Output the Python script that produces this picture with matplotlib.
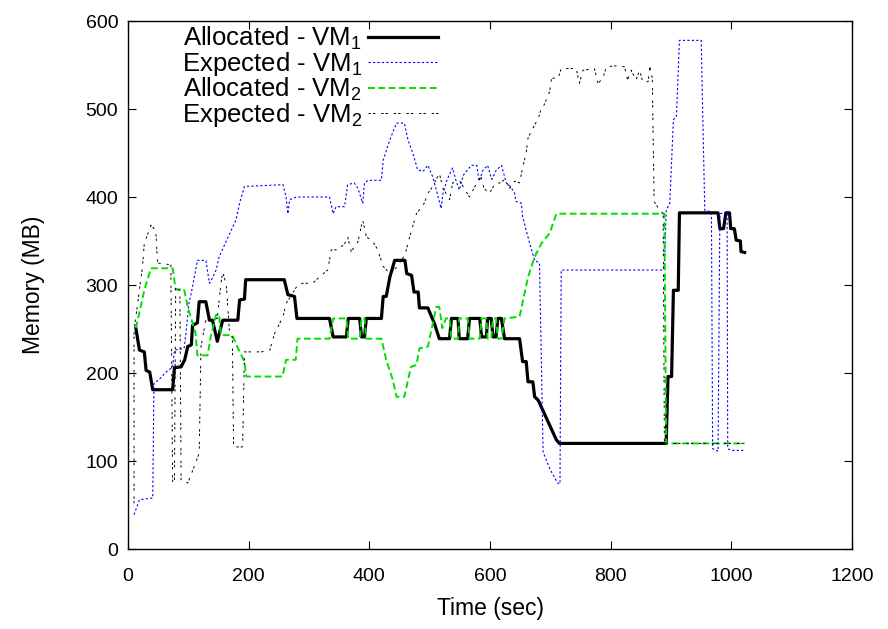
import numpy as np
import matplotlib
matplotlib.use("Agg")
import matplotlib.pyplot as plt

plt.rcParams['font.family'] = ['Liberation Sans', 'DejaVu Sans']
plt.rcParams['mathtext.fontset'] = 'custom'
plt.rcParams['mathtext.rm'] = 'Liberation Sans'
plt.rcParams['mathtext.it'] = 'Liberation Sans:italic'

# --- Allocated VM1 (black, thick) ---
alloc1_t = [13, 19, 27, 30, 36, 41, 74, 77, 88, 94, 99, 105, 107, 115, 118, 129, 135, 140, 148, 157,
            182, 185, 193, 195, 204, 259, 265, 276, 280, 334, 340, 362, 365, 384, 387, 392, 395, 420,
            423, 428, 434, 442, 459, 462, 470, 474, 481, 483, 497, 508, 516, 533, 536, 547, 549, 563,
            566, 583, 586, 594, 596, 602, 605, 610, 613, 619, 624, 649, 654, 660, 663, 671, 674, 680,
            710, 715, 892, 895, 901, 904, 912, 914, 978, 981, 987, 991, 997, 999, 1005, 1008, 1015,
            1016, 1022]
alloc1_y = [251, 226, 224, 203, 201, 181, 181, 206, 207, 215, 230, 232, 254, 257, 281, 281, 260, 260, 236, 260,
            260, 283, 284, 306, 306, 306, 289, 287, 262, 262, 241, 241, 262, 262, 241, 241, 262, 262,
            287, 287, 309, 328, 328, 313, 311, 292, 292, 274, 274, 256, 239, 239, 262, 262, 239, 239,
            262, 262, 241, 241, 262, 262, 241, 241, 262, 262, 239, 239, 213, 213, 190, 190, 173, 169,
            124, 120, 120, 196, 196, 294, 294, 382, 382, 364, 364, 382, 382, 364, 364, 351, 350,
            338, 337]

# --- Expected VM1 (blue, dotted) ---
exp1_t = [10, 19, 41, 43, 52, 63, 74, 77, 93, 96, 101, 107, 115, 129, 135, 140, 146, 151, 165, 179,
          185, 193, 257, 262, 265, 268, 279, 334, 340, 345, 359, 364, 375, 381, 389, 392, 398, 420,
          423, 434, 445, 458, 464, 472, 480, 489, 497, 505, 511, 519, 522, 529, 538, 543, 549, 556,
          569, 578, 582, 588, 596, 603, 610, 619, 627, 634, 641, 643, 652, 654, 660, 666, 674, 682,
          688, 700, 712, 716, 718, 889, 892, 898, 904, 909, 914, 950, 956, 967, 969, 978, 981, 993,
          994, 1000, 1019, 1022]
exp1_y = [39, 56, 58, 188, 193, 201, 207, 226, 228, 245, 279, 298, 328, 328, 302, 308, 317, 332, 353, 374,
          393, 412, 414, 400, 381, 397, 400, 400, 381, 389, 389, 414, 416, 410, 393, 416, 419, 419,
          442, 465, 484, 484, 465, 450, 431, 429, 436, 423, 408, 387, 404, 420, 433, 420, 408, 425,
          436, 436, 418, 430, 436, 420, 430, 436, 416, 412, 404, 395, 393, 378, 362, 347, 328, 325,
          110, 90, 75, 74, 317, 317, 385, 393, 488, 491, 578, 578, 385, 383, 114, 111, 381, 383,
          114, 112, 112, 114]

# --- Allocated VM2 (green, dashed) ---
alloc2_t = [13, 21, 27, 38, 74, 79, 93, 99, 112, 115, 132, 137, 146, 151, 154, 173, 181, 193, 196, 256,
            262, 278, 281, 334, 340, 362, 365, 384, 387, 392, 395, 420, 428, 439, 445, 458, 469, 478,
            483, 497, 511, 516, 521, 527, 533, 536, 547, 549, 563, 566, 583, 586, 594, 596, 602, 605,
            610, 613, 619, 624, 649, 663, 674, 685, 699, 710, 889, 892, 1022]
alloc2_y = [251, 275, 294, 319, 319, 295, 295, 275, 245, 220, 220, 241, 266, 266, 243, 243, 230, 213, 196, 196,
            215, 215, 239, 239, 262, 262, 239, 239, 262, 262, 239, 239, 215, 192, 173, 173, 207, 209,
            228, 230, 275, 275, 251, 262, 262, 239, 239, 262, 262, 239, 239, 262, 262, 239, 239, 262,
            262, 239, 239, 262, 264, 309, 332, 347, 359, 381, 381, 120, 120]

# --- Expected VM2 (black, sparse dashes) ---
exp2_t = [10, 10, 16, 24, 27, 38, 46, 49, 71, 74, 77, 79, 86, 88, 99, 110, 118, 121, 129, 148,
          154, 157, 163, 168, 173, 175, 190, 193, 221, 235, 243, 257, 262, 276, 281, 290, 306, 317,
          331, 337, 348, 359, 364, 370, 381, 389, 395, 406, 414, 423, 434, 445, 459, 467, 478, 491,
          497, 505, 516, 522, 533, 538, 550, 566, 575, 585, 590, 599, 608, 616, 625, 633, 641, 649,
          654, 660, 663, 668, 674, 680, 685, 690, 699, 702, 713, 718, 743, 748, 754, 773, 779, 787,
          793, 807, 823, 828, 834, 842, 848, 853, 862, 865, 869, 872, 881, 887, 889, 892, 1022]
exp2_y = [52, 249, 279, 321, 347, 368, 362, 325, 323, 75, 75, 296, 294, 78, 75, 94, 109, 230, 260, 262,
          302, 315, 300, 248, 240, 116, 116, 224, 224, 226, 245, 264, 279, 294, 300, 302, 302, 309,
          317, 340, 340, 347, 355, 338, 349, 374, 355, 349, 340, 321, 313, 320, 334, 355, 381, 393,
          404, 412, 427, 410, 397, 416, 418, 400, 412, 423, 410, 404, 415, 416, 420, 410, 418, 416,
          433, 450, 467, 474, 482, 489, 501, 505, 520, 535, 535, 546, 546, 529, 544, 546, 529, 535,
          548, 549, 548, 533, 544, 533, 544, 531, 531, 548, 535, 395, 385, 381, 124, 120, 120]

fig = plt.figure(figsize=(8.88, 6.29), dpi=100)
ax = fig.add_axes([128 / 888, 1 - 549 / 629, 724 / 888, 528 / 629])

ax.plot(alloc1_t, alloc1_y, color='black', lw=2.3, label='Allocated - VM$_1$')
ax.plot(exp1_t, exp1_y, color='#0000ff', lw=0.8, dashes=(2, 2), label='Expected - VM$_1$')
ax.plot(alloc2_t, alloc2_y, color='#00e000', lw=1.4, dashes=(3.5, 1.8), label='Allocated - VM$_2$')
ax.plot(exp2_t, exp2_y, color='black', lw=0.7, dashes=(2.5, 2, 2.5, 6), label='Expected - VM$_2$')

ax.set_xlim(0, 1200)
ax.set_ylim(0, 600)
ax.set_xticks(np.arange(0, 1201, 200))
ax.set_yticks(np.arange(0, 601, 100))
ax.tick_params(direction='in', top=True, right=True, length=6, labelsize=14)
ax.tick_params(axis='x', pad=14)
ax.tick_params(axis='y', pad=7)
for s in ax.spines.values():
    s.set_linewidth(1.0)
ax.set_xlabel('Time (sec)', fontsize=16.5, labelpad=8)
ax.set_ylabel('Memory (MB)', fontsize=16.5, labelpad=29)

leg = ax.legend(loc='upper left', bbox_to_anchor=(0.06, 1.012), frameon=False, markerfirst=False,
                fontsize=18.5, handlelength=2.7, handletextpad=0.25, labelspacing=-0.08,
                borderaxespad=0)

fig.savefig('out.png', dpi=100)
